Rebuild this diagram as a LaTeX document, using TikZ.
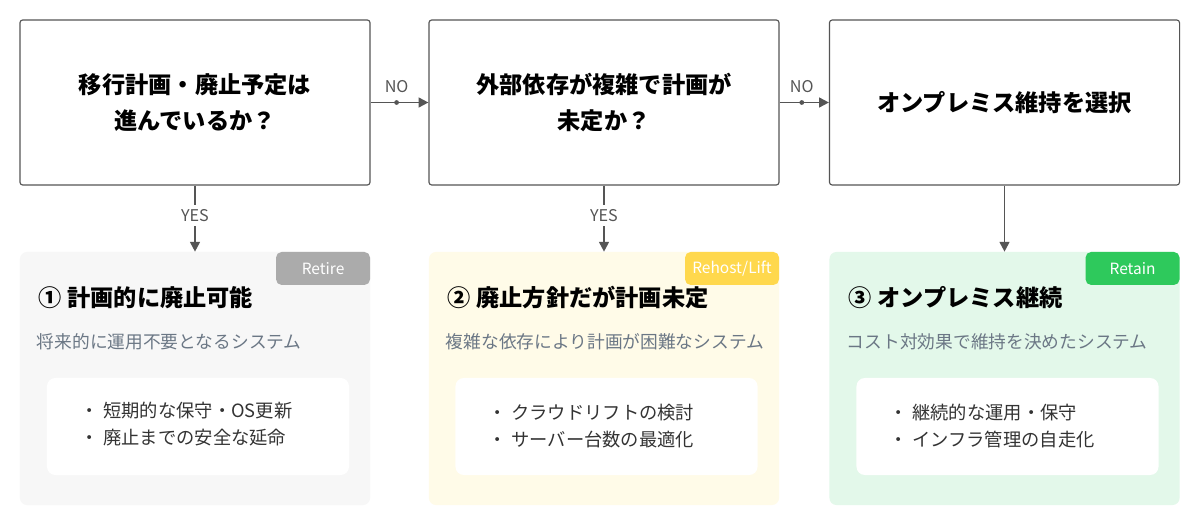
\documentclass[tikz,border=0pt]{standalone}
\usepackage{fontspec}
\setmainfont{Noto Sans CJK JP}
\usetikzlibrary{arrows.meta,positioning}
\definecolor{edgegray}{HTML}{555555}
\definecolor{subgray}{HTML}{6B7785}
\definecolor{retirebg}{HTML}{F7F7F7}
\definecolor{rehostbg}{HTML}{FFFBE8}
\definecolor{retainbg}{HTML}{E3F8EA}
\definecolor{retiretag}{HTML}{ABABAB}
\definecolor{rehosttag}{HTML}{FFD84D}
\definecolor{retaintag}{HTML}{2EC95C}
\tikzset{
  question/.style={draw=edgegray, line width=0.8pt, rounded corners=2pt, minimum width=8.75cm, minimum height=4.125cm, align=center, font=\fontsize{16.5}{25}\selectfont\bfseries},
  card/.style={rounded corners=5pt, minimum width=8.75cm, minimum height=6.325cm},
  inner/.style={fill=white, rounded corners=6pt, minimum width=7.55cm, minimum height=2.425cm},
  tag/.style={rounded corners=4pt, minimum width=2.35cm, minimum height=0.825cm, text=white, font=\fontsize{11}{13}\selectfont},
  flow/.style={-{Triangle[length=7pt,width=7pt]}, draw=edgegray, line width=1.3pt},
  lbl/.style={text=edgegray, font=\fontsize{11.5}{13}\selectfont},
  ttl/.style={anchor=west, font=\fontsize{16.5}{20}\selectfont\bfseries},
  sub/.style={anchor=west, text=subgray, font=\fontsize{12.6}{15}\selectfont},
  item/.style={anchor=west, text=black!80, font=\fontsize{13}{16}\selectfont}
}
\begin{document}
\begin{tikzpicture}[x=0.025cm,y=-0.025cm]
\useasboundingbox[fill=white] (0,0) rectangle (1200,525);

% decision boxes
\node[question] (q1) at (195,102.5) {移行計画・廃止予定は\\進んでいるか？};
\node[question] (q2) at (604,102.5) {外部依存が複雑で計画が\\未定か？};
\node[question] (q3) at (1004.5,102.5) {オンプレミス維持を選択};

% cards
\node[card, fill=retirebg] (c1) at (195,378.5) {};
\node[card, fill=rehostbg] (c2) at (604,378.5) {};
\node[card, fill=retainbg] (c3) at (1004.5,378.5) {};

\node[tag, fill=retiretag, anchor=north east] (t1) at (c1.north east) {Retire};
\node[tag, fill=rehosttag, anchor=north east] (t2) at (c2.north east) {Rehost/Lift};
\node[tag, fill=retaintag, anchor=north east] (t3) at (c3.north east) {Retain};

\node[ttl] (h1) at (34,298) {① 計画的に廃止可能};
\node[ttl] (h2) at (443,298) {② 廃止方針だが計画未定};
\node[ttl] (h3) at (844,298) {③ オンプレミス継続};

\node[sub] (s1) at (32,342) {将来的に運用不要となるシステム};
\node[sub] (s2) at (441,342) {複雑な依存により計画が困難なシステム};
\node[sub] (s3) at (842,342) {コスト対効果で維持を決めたシステム};

\node[inner] (b1) at (198,426.5) {};
\node[inner] (b2) at (606.5,426.5) {};
\node[inner] (b3) at (1007.5,426.5) {};

\node[item] (i11) at (76,411) {・ 短期的な保守・OS更新};
\node[item] (i12) at (76,438) {・ 廃止までの安全な延命};
\node[item] (i21) at (484,413) {・ クラウドリフトの検討};
\node[item] (i22) at (484,440) {・ サーバー台数の最適化};
\node[item] (i31) at (885,413) {・ 継続的な運用・保守};
\node[item] (i32) at (885,440) {・ インフラ管理の自走化};

% connectors
\draw[flow] (q1) -- node[pos=0.45, circle, fill=edgegray, inner sep=1.2pt] {} node[lbl, pos=0.45, above=3pt] {NO} (q2);
\draw[flow] (q2) -- node[pos=0.45, circle, fill=edgegray, inner sep=1.2pt] {} node[lbl, pos=0.45, above=3pt] {NO} (q3);
\draw[flow] (q1) -- node[lbl, fill=white, pos=0.45] {YES} (c1);
\draw[flow] (q2) -- node[lbl, fill=white, pos=0.45] {YES} (c2);
\draw[flow] (q3) -- (c3);
\end{tikzpicture}
\end{document}
